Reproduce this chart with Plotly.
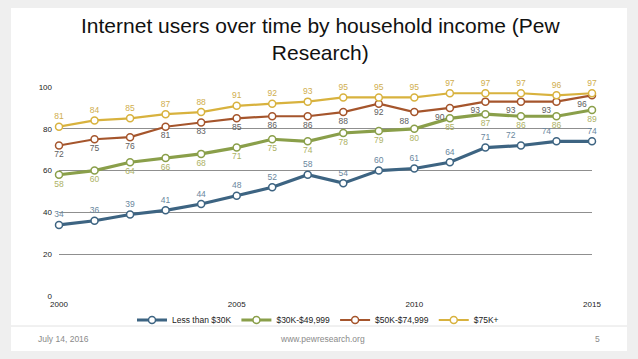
import plotly.graph_objects as go

years = list(range(2000, 2016))
less30 = [34, 36, 39, 41, 44, 48, 52, 58, 54, 60, 61, 64, 71, 72, 74, 74]
k30_50 = [58, 60, 64, 66, 68, 71, 75, 74, 78, 79, 80, 85, 87, 86, 86, 89]
k50_75 = [72, 75, 76, 81, 83, 85, 86, 86, 88, 92, 88, 90, 93, 93, 93, 96]
k75 = [81, 84, 85, 87, 88, 91, 92, 93, 95, 95, 95, 97, 97, 97, 96, 97]
names = ["Less than $30K", "$30K-$49,999", "$50K-$74,999", "$75K+"]
y_ticks = [0, 20, 40, 60, 80, 100]
x_ticks = [2000, 2005, 2010, 2015]

W, H = 638, 359
L, R, T, B = 59, 46, 87, 63
pw, ph = W - L - R, H - T - B

def px(x):
    return (x - L) / pw

def py(y):
    return (H - B - y) / ph

pos_orange = ["bottom center"] * 10 + ["bottom left"] * 6
pos_blue = ["top center"] * 13 + ["top left", "top left", "top center"]

series = [
    (less30, names[0], "#3d6482", "#6a879e", 3.2, pos_blue),
    (k30_50, names[1], "#8a9f4a", "#adb265", 3.2, ["bottom center"] * 16),
    (k50_75, names[2], "#a5552c", "#5e5e5e", 2.2, pos_orange),
    (k75, names[3], "#d8b23e", "#d0ae4e", 2.2, ["top center"] * 16),
]

fig = go.Figure()
for vals, name, col, tcol, lw, tpos in series:
    fig.add_trace(go.Scatter(
        x=years, y=vals, name=name, mode="lines+markers+text",
        line=dict(color=col, width=lw),
        marker=dict(symbol="circle", size=7, color="white", line=dict(color=col, width=1.5)),
        text=[str(v) for v in vals], textposition=tpos,
        textfont=dict(size=8.5, color=tcol, family="Liberation Sans, Arial, sans-serif"),
        cliponaxis=False,
    ))

shapes = [
    dict(type="rect", xref="paper", yref="paper", x0=px(11), x1=px(627), y0=py(351), y1=py(8),
         fillcolor="white", line=dict(width=0), layer="below"),
    dict(type="line", xref="paper", yref="paper", x0=px(11), x1=px(627), y0=py(326), y1=py(326),
         line=dict(color="#e2e2e2", width=1)),
]

foot = dict(size=8.5, color="#8a8a8a", family="Liberation Sans, Arial, sans-serif")
annotations = [
    dict(text="Internet users over time by household income (Pew<br>Research)", x=px(320), y=py(39),
         xref="paper", yref="paper", xanchor="center", yanchor="middle", showarrow=False, align="center",
         font=dict(size=21, color="#111111", family="Liberation Sans, Arial, sans-serif")),
    dict(text="July 14, 2016", x=px(36), y=py(339), xref="paper", yref="paper", xanchor="left",
         yanchor="middle", showarrow=False, font=foot),
    dict(text="www.pewresearch.org", x=px(322), y=py(339), xref="paper", yref="paper", xanchor="center",
         yanchor="middle", showarrow=False, font=foot),
    dict(text="5", x=px(597), y=py(339), xref="paper", yref="paper", xanchor="center",
         yanchor="middle", showarrow=False, font=foot),
]

fig.update_layout(
    width=W, height=H, margin=dict(l=L, r=R, t=T, b=B),
    paper_bgcolor="#efefef", plot_bgcolor="rgba(0,0,0,0)",
    font=dict(family="Liberation Sans, Arial, sans-serif", size=8, color="#222222"),
    showlegend=True,
    legend=dict(orientation="h", x=px(318), xanchor="center", y=py(320), yanchor="middle",
                font=dict(size=8.5, color="#222222"), bgcolor="rgba(0,0,0,0)",
                itemwidth=30, tracegroupgap=0),
    shapes=shapes, annotations=annotations,
    xaxis=dict(range=[2000, 2015], tickvals=x_ticks, ticktext=[str(t) for t in x_ticks],
               showgrid=False, zeroline=False, showline=False, ticks="", ticklabelstandoff=2,
               tickfont=dict(size=8, color="#222222")),
    yaxis=dict(range=[0, 100], tickvals=y_ticks, ticktext=[str(t) for t in y_ticks],
               showgrid=True, gridcolor="#8f8f8f", gridwidth=1, zeroline=False, showline=False,
               ticks="", ticklabelstandoff=6, tickfont=dict(size=8, color="#222222")),
)

fig.write_html("out.html", config={"displayModeBar": False},
               post_script="document.body.style.margin='0';document.body.style.background='#efefef';")
